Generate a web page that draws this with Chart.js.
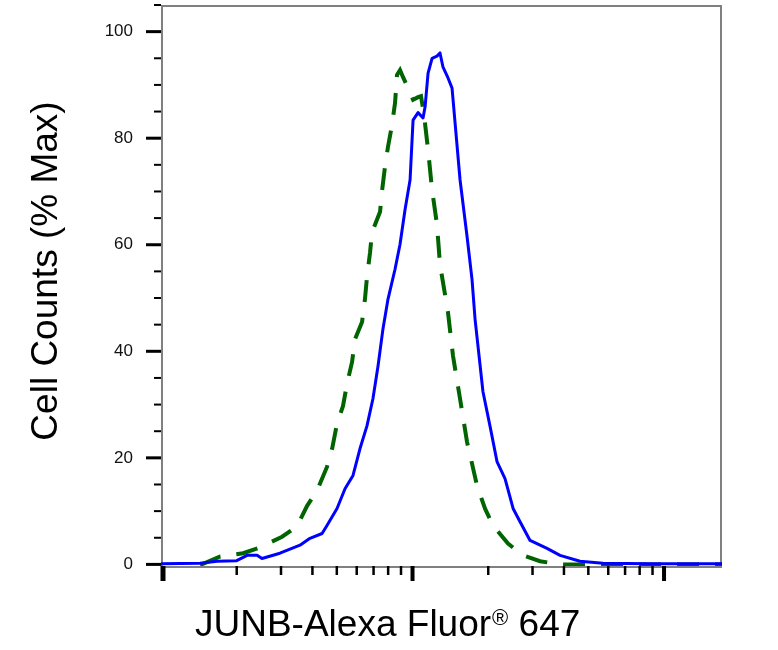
<!DOCTYPE html>
<html>
<head>
<meta charset="utf-8">
<title>JUNB-Alexa Fluor 647 histogram</title>
<script src="https://cdn.jsdelivr.net/npm/chart.js@4.4.1/dist/chart.umd.min.js"></script>
<style>
  html, body { margin: 0; padding: 0; background: #fff; }
  #wrap { width: 778px; height: 650px; }
</style>
</head>
<body>
<div id="wrap"><canvas id="histo" width="778" height="650"></canvas></div>
<script>
// Sample (JUNB stained) - blue solid
const blueX = [10, 14.3, 16.7, 20.0, 22.0, 24.1, 25.2, 29.7, 35.7, 39.1, 43.7, 45.7, 50.1, 53.9, 58.0, 61.8,
  65.9, 69.6, 72.9, 76.3, 79.9, 85.2, 89.2, 93.4, 97.8, 100.5, 105.2, 110.1, 112.2, 115.3, 119.6, 125.1,
  128.6, 132.1, 138.4, 143.6, 147.6, 154.5, 164.7, 172.4, 177.3, 190.6, 203.2, 216.7, 233.2, 251.1, 267.6,
  293.3, 342.6, 386.0, 463.5, 571.6, 879, 1700];
const blueY = [0.1, 0.2, 0.6, 0.7, 1.7, 1.7, 1.1, 2.1, 3.6, 4.9, 5.8, 7.3, 10.5, 14.2, 16.7, 21.7,
  26.0, 31.1, 37.2, 44.2, 49.8, 55.4, 60.1, 66.6, 72.2, 83.4, 84.8, 83.8, 85.9, 92.2, 95.0, 95.4,
  96.0, 93.4, 91.3, 89.4, 82.9, 72.2, 61.6, 53.5, 46.0, 32.4, 26.0, 19.3, 16.1, 10.5, 8.0,
  4.5, 3.0, 1.7, 0.6, 0.2, 0.1, 0.1];

// Isotype control - green dashed
const greenX = [14.3, 14.7, 17.2, 21.2, 24.8, 30.3, 34.7, 38.1, 41.7, 45.7, 47.9, 50.1, 52.9, 54.9, 57.5,
  59.1, 63.0, 64.7, 65.9, 67.8, 69.0, 74.3, 75.6, 77.7, 79.9, 82.9, 85.2, 86.8, 89.2, 91.6, 96.0, 100.5,
  105.2, 108.1, 111.1, 115.3, 119.6, 125.1, 128.6, 138.4, 144.9, 154.5, 164.7, 180.5, 194.1, 208.9,
  239.7, 274.9, 321.4, 386, 600, 1700];
const greenY = [0, 0.1, 1.5, 2.1, 3.2, 5.2, 7.1, 11.0, 13.8, 18.3, 21.7, 26.4, 29.7, 33.9, 38.0,
  42.3, 45.5, 49.8, 53.9, 58.6, 62.3, 66.2, 70.0, 74.6, 78.4, 82.5, 86.6, 91.9, 92.8, 91.5, 89.4, 87.2,
  87.7, 87.9, 84.4, 77.8, 70.3, 63.8, 56.3, 47.3, 39.1, 31.1, 23.0, 14.8, 10.5, 7.3,
  3.9, 1.7, 0.6, 0, 0, 0];

const xMajorTicks = [10, 100, 1000];
const xMinorTicks = [20, 30, 40, 50, 60, 70, 80, 90, 200, 300, 400, 500, 600, 700, 800, 900];
const yTicks = [0, 20, 40, 60, 80, 100];
const yMinorTicks = [5, 10, 15, 25, 30, 35, 45, 50, 55, 65, 70, 75, 85, 90, 95, 105];

const FONT = '"Liberation Sans", Arial, sans-serif';

function toPoints(xs, ys) {
    return xs.map((x, i) => ({ x: x, y: ys[i] }));
}

// frame, tick marks and axis titles
const axisDecor = {
    id: 'axisDecor',
    beforeDatasetsDraw(chart) {
        const ctx = chart.ctx;
        const a = chart.chartArea;
        ctx.save();
        ctx.strokeStyle = '#808080';
        ctx.lineWidth = 2;
        ctx.strokeRect(a.left + 1, a.top + 1, a.right - a.left - 2, a.bottom - a.top);
        ctx.restore();
    },
    afterDraw(chart) {
        const ctx = chart.ctx;
        const a = chart.chartArea;
        const xs = chart.scales.x;
        const ys = chart.scales.y;
        ctx.save();
        ctx.strokeStyle = '#000';
        ctx.lineCap = 'butt';

        // x ticks hang below the axis
        xMajorTicks.forEach((v, i) => {
            const px = xs.getPixelForValue(v) + (i === 0 ? 2 : 0);
            ctx.lineWidth = i === 0 ? 5 : 4;
            ctx.beginPath();
            ctx.moveTo(px, a.bottom);
            ctx.lineTo(px, a.bottom + 15);
            ctx.stroke();
        });
        ctx.lineWidth = 2.5;
        xMinorTicks.forEach(v => {
            const px = xs.getPixelForValue(v);
            ctx.beginPath();
            ctx.moveTo(px, a.bottom);
            ctx.lineTo(px, a.bottom + 9);
            ctx.stroke();
        });

        // y ticks point left
        ctx.lineWidth = 3;
        yTicks.forEach(v => {
            const py = ys.getPixelForValue(v);
            ctx.beginPath();
            ctx.moveTo(a.left - 15, py);
            ctx.lineTo(a.left, py);
            ctx.stroke();
        });
        ctx.lineWidth = 2;
        yMinorTicks.forEach(v => {
            const py = ys.getPixelForValue(v);
            ctx.beginPath();
            ctx.moveTo(a.left - 7, py);
            ctx.lineTo(a.left, py);
            ctx.stroke();
        });

        // titles
        ctx.fillStyle = '#000';
        ctx.textBaseline = 'alphabetic';
        ctx.save();
        ctx.translate(57, 271);
        ctx.rotate(-Math.PI / 2);
        ctx.textAlign = 'center';
        ctx.font = '37px ' + FONT;
        ctx.fillText('Cell Counts (% Max)', 0, 0);
        ctx.restore();

        ctx.textAlign = 'left';
        let x = 195;
        const base = 636;
        ctx.font = '37px ' + FONT;
        const part1 = 'JUNB-Alexa Fluor';
        ctx.fillText(part1, x, base);
        x += ctx.measureText(part1).width + 1;
        ctx.font = '22px ' + FONT;
        ctx.fillText('®', x, base - 11);
        x += ctx.measureText('®').width;
        ctx.font = '37px ' + FONT;
        ctx.fillText(' 647', x, base);
        ctx.restore();
    }
};

const chart = new Chart(document.getElementById('histo'), {
    type: 'line',
    data: {
        datasets: [
            {
                label: 'JUNB',
                data: toPoints(blueX, blueY),
                borderColor: '#0000ff',
                borderWidth: 3,
                pointRadius: 0,
                tension: 0,
                fill: false,
                borderJoinStyle: 'round'
            },
            {
                label: 'Control',
                data: toPoints(greenX, greenY),
                borderColor: '#006400',
                borderWidth: 4,
                borderDash: [22, 16],
                pointRadius: 0,
                tension: 0,
                fill: false
            }
        ]
    },
    options: {
        responsive: false,
        animation: false,
        layout: { padding: { top: 5, right: 56, left: 0, bottom: 0 } },
        plugins: {
            legend: { display: false },
            tooltip: { enabled: false }
        },
        scales: {
            x: {
                type: 'logarithmic',
                min: 10,
                max: 1700,
                grid: { display: false, drawTicks: false },
                border: { display: false },
                ticks: { display: false },
                afterFit(s) { s.height = 84; }
            },
            y: {
                type: 'linear',
                min: -0.3,
                max: 105,
                grid: { display: false, drawTicks: false },
                border: { display: false },
                ticks: {
                    color: '#111',
                    padding: 28,
                    font: { family: FONT, size: 17 }
                },
                afterBuildTicks(s) { s.ticks = yTicks.map(v => ({ value: v })); },
                afterFit(s) {
                    s.width = 161;
                    s.paddingTop = 0;
                    s.paddingBottom = 0;
                }
            }
        }
    },
    plugins: [axisDecor]
});
</script>
</body>
</html>
